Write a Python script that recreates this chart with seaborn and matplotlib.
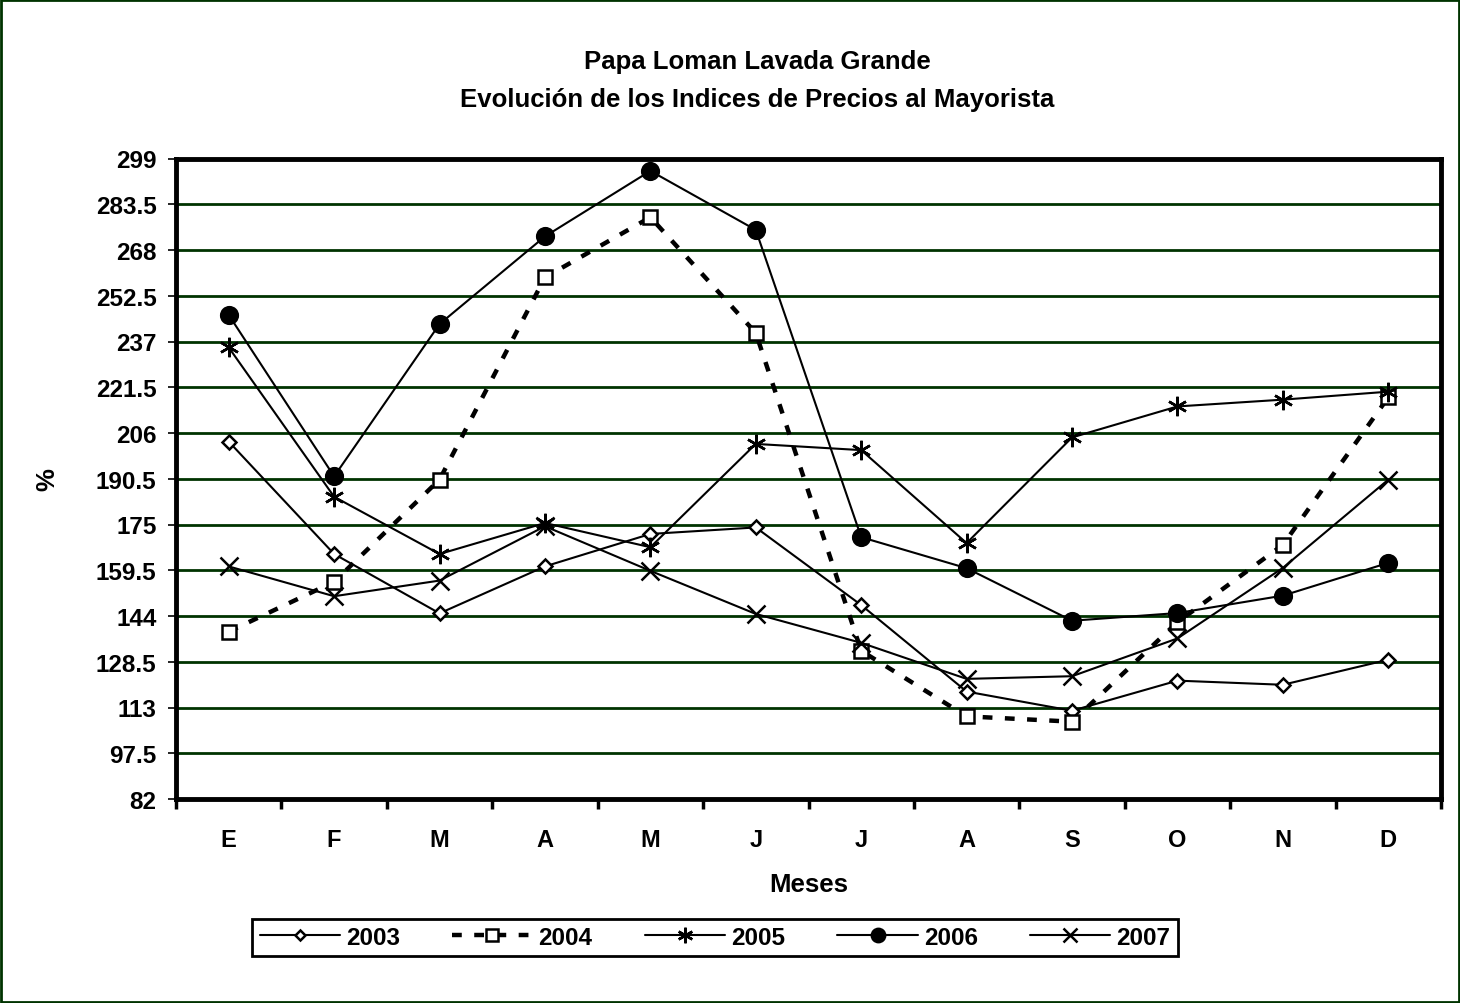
import pandas as pd
import matplotlib
matplotlib.use("Agg")
import matplotlib.pyplot as plt
import seaborn as sns
import numpy as np
from matplotlib.patches import Rectangle
from matplotlib.ticker import FixedLocator

# Papa Loman Lavada Grande - price index by month
months = ["E", "F", "M", "A", "M", "J", "J", "A", "S", "O", "N", "D"]
years = ["2003", "2004", "2005", "2006", "2007"]

v2003 = [203.1, 165.0, 144.9, 160.8, 171.8, 174.0, 147.7, 118.4, 111.9, 122.1, 120.7, 129.2]
v2004 = [138.7, 155.6, 190.2, 258.7, 279.1, 239.9, 132.2, 110.0, 108.2, 141.9, 168.1, 218.1]
v2005 = [235.0, 184.4, 165.0, 175.5, 167.3, 202.3, 200.2, 168.7, 204.5, 215.0, 217.3, 220.0]
v2006 = [246.0, 191.3, 242.9, 272.6, 294.8, 274.8, 170.7, 160.2, 142.4, 145.0, 150.9, 162.0]
v2007 = [160.8, 150.7, 156.0, 174.4, 159.3, 144.7, 134.9, 122.7, 123.6, 136.4, 160.3, 190.2]

y_ticks = [82, 97.5, 113, 128.5, 144, 159.5, 175, 190.5, 206, 221.5, 237, 252.5, 268, 283.5, 299]

series = [v2003, v2004, v2005, v2006, v2007]
styles = {
    "2003": dict(marker="D", markersize=7, markerfacecolor="white", linestyle="-", linewidth=1.5),
    "2004": dict(marker="s", markersize=10, markerfacecolor="white", linestyle=(0, (2.2, 2.8)), linewidth=3.2),
    "2005": dict(marker=(6, 2, 0), markersize=14, markerfacecolor="black", linestyle="-", linewidth=1.5),
    "2006": dict(marker="o", markersize=12, markerfacecolor="black", linestyle="-", linewidth=1.5),
    "2007": dict(marker="x", markersize=13, markerfacecolor="black", linestyle="-", linewidth=1.5),
}

sns.set_style("white")
plt.rcParams['font.family'] = ['Liberation Sans', 'DejaVu Sans']
plt.rcParams['font.weight'] = 'bold'
plt.rcParams['text.color'] = 'black'
plt.rcParams['axes.labelcolor'] = 'black'
plt.rcParams['xtick.color'] = 'black'
plt.rcParams['ytick.color'] = 'black'

fig = plt.figure(figsize=(14.6, 10.04), dpi=100)
ax = fig.add_axes([176 / 1460, 1 - 800 / 1004, (1441 - 176) / 1460, (800 - 159.5) / 1004])

pos = np.arange(len(months))
grid_green = "#003300"
for yv in y_ticks[1:-1]:
    ax.axhline(yv, color=grid_green, linewidth=2, zorder=1)

for name, vals in zip(years, series):
    st = styles[name]
    sns.lineplot(x=pos, y=vals, ax=ax, color="black", label=name,
                 markeredgecolor="black", markeredgewidth=1.8, zorder=3,
                 **st)

ax.set_xlim(-0.5, 11.5)
ax.set_ylim(82, 299)
ax.set_xticks(pos)
ax.set_xticklabels(months, fontsize=17, fontweight="bold")
ax.xaxis.set_minor_locator(FixedLocator(np.arange(-0.5, 12, 1)))
ax.tick_params(axis="x", which="major", length=0, pad=21)
ax.tick_params(axis="x", which="minor", length=7, width=2.5, direction="out", color="black", bottom=True)
ax.set_yticks(y_ticks)
ax.set_yticklabels([f"{v:g}" for v in y_ticks], fontsize=17.5, fontweight="bold")
ax.tick_params(axis="y", which="major", length=6, width=1.2, direction="out", color="black", left=True, pad=8)

for sp in ax.spines.values():
    sp.set_color("black")
    sp.set_linewidth(3.5)

ax.set_xlabel("Meses", fontsize=18.5, fontweight="bold", labelpad=15)
ax.set_ylabel("%", fontsize=18.5, fontweight="bold", labelpad=26)

fig.text(757 / 1460, 1 - 62 / 1004, "Papa Loman Lavada Grande", ha="center", va="center",
         fontsize=18.5, fontweight="bold")
fig.text(757 / 1460, 1 - 100 / 1004, "Evolución de los Indices de Precios al Mayorista", ha="center", va="center",
         fontsize=18.5, fontweight="bold")

ax.get_legend().remove()
handles, labels = ax.get_legend_handles_labels()
leg = fig.legend(handles, labels, loc="center", bbox_to_anchor=(715 / 1460, 1 - 938.5 / 1004),
                 ncol=5, frameon=True, fancybox=False, handlelength=3.3, columnspacing=2.15,
                 handletextpad=0.25, borderpad=0.3, borderaxespad=0, markerscale=0.8,
                 framealpha=1, prop={"size": 17.5, "weight": "bold"})
leg.get_frame().set_edgecolor("black")
leg.get_frame().set_linewidth(2)

fig.patches.append(Rectangle((0.001, 0.001), 0.998, 0.998, transform=fig.transFigure,
                             fill=False, edgecolor=grid_green, linewidth=2))

fig.savefig("out.png", dpi=100)
